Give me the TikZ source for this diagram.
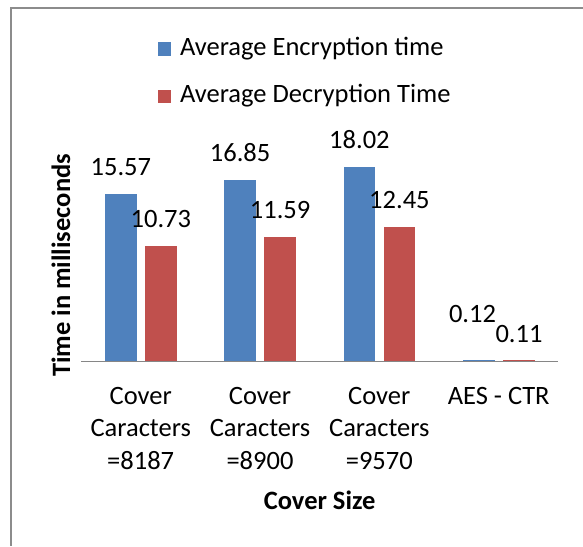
\documentclass[tikz,border=0pt]{standalone}
\usepackage{fontspec}
\setmainfont{Carlito}
\definecolor{encblue}{HTML}{4F81BD}
\definecolor{decred}{HTML}{C0504D}
\definecolor{axisgray}{HTML}{868686}
\definecolor{framegray}{HTML}{8C8C8C}
\begin{document}
\begin{tikzpicture}[x=1pt,y=-1pt,
  every node/.style={inner sep=0pt,outer sep=0pt,font=\fontsize{26.5}{32.6}\selectfont,text=black},
  barbox/.style={draw=none,minimum width=31.7pt,anchor=south},
  lgsq/.style={minimum width=13.5pt,minimum height=13.5pt,anchor=north west},
  axtitle/.style={font=\fontsize{26.5}{32.6}\selectfont\bfseries}]
\useasboundingbox (0,0) rectangle (583,546);
% frame
\draw[framegray,line width=2pt] (583,7.7) -- (11,7.7) -- (11,546);
% legend
\node[lgsq,fill=encblue] (lsqa) at (157.5,42) {};
\node[anchor=base west] (ltxa) at (180,55) {Average Encryption time};
\node[lgsq,fill=decred] (lsqb) at (157.5,89.5) {};
\node[anchor=base west] (ltxb) at (180,102.3) {Average Decryption Time};
% bars
\foreach \cx/\bv/\rv/\n in {140.7/15.57/10.73/1,260/16.85/11.59/2,379.3/18.02/12.45/3,498.7/0.12/0.11/4}{
  \node[barbox,fill=encblue,minimum height={\bv*10.78}] (be\n) at (\cx-19.85,361.5) {};
  \node[barbox,fill=decred,minimum height={\rv*10.78}] (bd\n) at (\cx+20.15,361.5) {};
}
\foreach \cx/\bv/\rv/\n in {140.7/15.57/10.73/1,260/16.85/11.59/2,379.3/18.02/12.45/3}{
  \node[anchor=base] (le\n) at (\cx-19.85,{361.5-\bv*10.78-18.5}) {\bv};
  \node[anchor=base] (ld\n) at (\cx+20.15,{361.5-\rv*10.78-18.5}) {\rv};
}
\node[anchor=base] (le4) at (472.5,322.7) {0.12};
\node[anchor=base] (ld4) at (519,342.7) {0.11};
% axis
\coordinate (axl) at (81,361.5);
\coordinate (axr) at (558.3,361.5);
\draw[axisgray,line width=1.5pt] (axl) -- (axr);
% category labels
\node[anchor=north,align=center] (cat1) at (140.7,386.9) {Cover\\Caracters\\=8187};
\node[anchor=north,align=center] (cat2) at (260,386.9) {Cover\\Caracters\\=8900};
\node[anchor=north,align=center] (cat3) at (379.3,386.9) {Cover\\Caracters\\=9570};
\node[anchor=north,align=center] (cat4) at (498.7,386.9) {AES - CTR};
% axis titles
\node[axtitle,anchor=base] (xt) at (319.6,509.3) {Cover Size};
\node[axtitle,anchor=base,rotate=90] (yt) at (70,265.5) {Time in milliseconds};
\end{tikzpicture}
\end{document}
